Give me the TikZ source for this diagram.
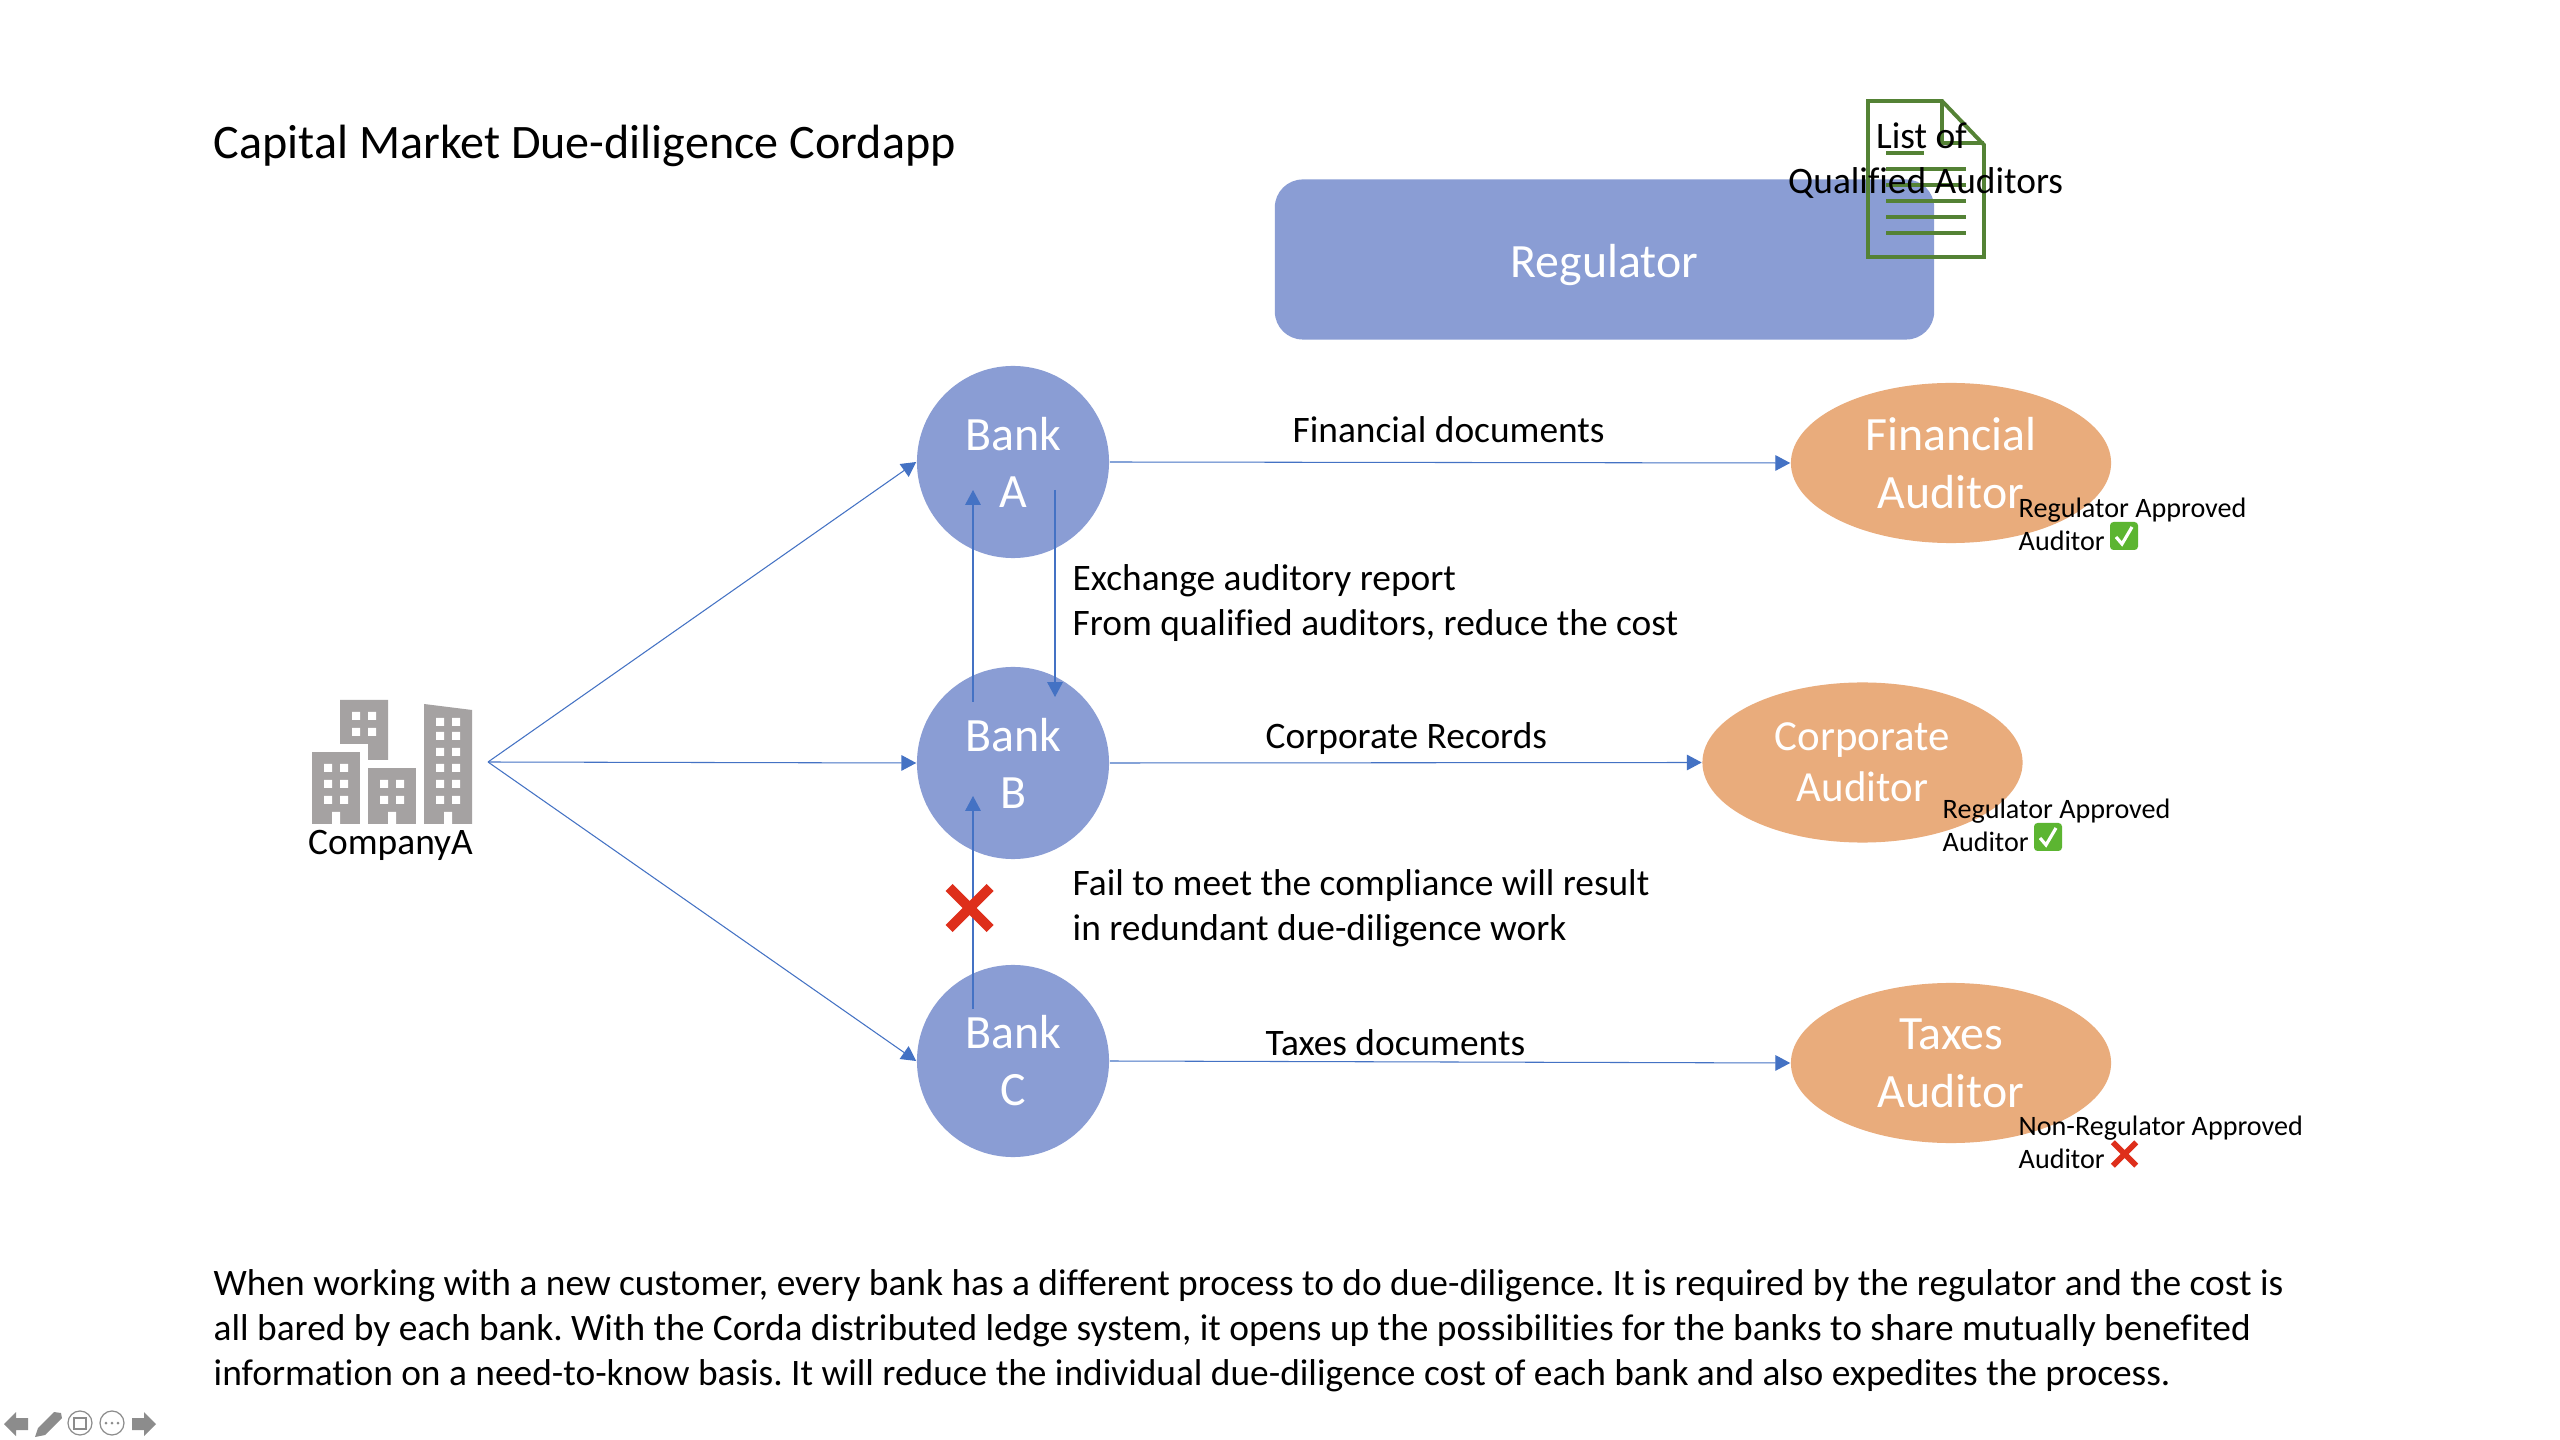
\documentclass[tikz,border=0pt]{standalone}
\usepackage{fontspec}
\setmainfont[Ligatures=NoCommon]{Carlito}
\usetikzlibrary{arrows.meta,shapes.geometric}
\definecolor{bankblue}{HTML}{8A9DD4}
\definecolor{linkblue}{HTML}{4472C4}
\definecolor{auditorange}{HTML}{E9AC7C}
\definecolor{docgreen}{HTML}{548235}
\definecolor{towergray}{HTML}{A5A2A2}
\definecolor{navgray}{HTML}{8C8C8C}
\definecolor{crossred}{HTML}{DE2F1B}
\definecolor{okgreen}{HTML}{5CB531}
\frenchspacing
\begin{document}
\begin{tikzpicture}[x=.01cm,y=-.01cm]
	\tikzset{bank/.style = {shape=circle,fill=bankblue,text=white,minimum size=1.92cm,inner sep=0pt,align=center,font=\fontsize{13.6}{16.2}\selectfont}}
	\tikzset{auditor/.style = {shape=ellipse,fill=auditorange,text=white,minimum width=3.2cm,minimum height=1.6cm,inner sep=0pt,align=center,font=\fontsize{13.6}{16.5}\selectfont}}
	\tikzset{link/.style = {-{Triangle[length=4.2pt,width=4.4pt]},draw=linkblue,line width=.3pt}}
	\tikzset{label/.style = {anchor=base west,inner sep=0pt,font=\fontsize{10.63}{12.8}\selectfont}}
	\tikzset{note/.style = {anchor=base west,inner sep=0pt,font=\fontsize{8}{9.5}\selectfont}}
	\tikzset{docline/.style = {draw=docgreen,line width=1.1pt}}
	\tikzset{crossmark/.pic = {\fill[crossred] (-24,-17) -- (-17,-24) -- (0,-7) -- (17,-24) -- (24,-17) -- (7,0) -- (24,17) -- (17,24) -- (0,7) -- (-17,24) -- (-24,17) -- (-7,0) -- cycle;}}
	\tikzset{okmark/.pic = {\fill[okgreen,rounded corners=1pt] (-14,-14) rectangle (14,14); \draw[white,line width=.9pt] (-8,1) -- (-2,8) -- (8,-9);}}
	\useasboundingbox (0,0) rectangle (2560,1440);
	\fill[white] (0,0) rectangle (2560,1440);
	% title
	\node[anchor=base west,inner sep=0pt,font=\fontsize{13.68}{16}\selectfont] (title) at (213,159) {Capital Market Due-diligence Cordapp};
	% regulator and its document
	\node[fill=bankblue,text=white,rounded corners=.28cm,minimum width=6.59cm,minimum height=1.6cm,inner sep=0pt,text height=10.2pt,text depth=0pt,font=\fontsize{13.6}{16}\selectfont] (regulator) at (1604.5,259.5) {Regulator};
	\draw[docline,line join=miter] (1868,101) -- (1942,101) -- (1984,145) -- (1984,257) -- (1868,257) -- cycle;
	\draw[docline] (1942,101) -- (1942,143) -- (1984,143);
	\draw[docline] (1886,153) -- (1924,153);
	\draw[docline] (1886,169) -- (1966,169);
	\draw[docline] (1886,185) -- (1966,185);
	\draw[docline] (1886,201) -- (1966,201);
	\draw[docline] (1886,217) -- (1966,217);
	\draw[docline] (1886,233) -- (1966,233);
	\node[label] (listof) at (1875.5,149) {List of};
	\node[label] (qualified) at (1787.5,194) {Qualified Auditors};
	% company buildings
	\fill[towergray] (340,700) -- (388,700) -- (388,760) -- (368,760) -- (368,744) -- (340,744) -- cycle;
	\fill[towergray] (312,752) rectangle (360,824);
	\fill[towergray] (368,768) rectangle (416,824);
	\fill[towergray] (424,704) -- (472,710) -- (472,824) -- (424,824) -- cycle;
	\fill[white] (352,712) rectangle +(8,8) (368,712) rectangle +(8,8) (352,728) rectangle +(8,8) (368,728) rectangle +(8,8);
	\fill[white] (324,764) rectangle +(8,8) (340,764) rectangle +(8,8) (324,780) rectangle +(8,8) (340,780) rectangle +(8,8) (324,796) rectangle +(8,8) (340,796) rectangle +(8,8) (332,812) rectangle +(8,12);
	\fill[white] (380,780) rectangle +(8,8) (396,780) rectangle +(8,8) (380,796) rectangle +(8,8) (396,796) rectangle +(8,8) (388,812) rectangle +(8,12);
	\fill[white] (436,718) rectangle +(8,8) (452,718) rectangle +(8,8) (436,732) rectangle +(8,8) (452,732) rectangle +(8,8) (436,748) rectangle +(8,8) (452,748) rectangle +(8,8);
	\fill[white] (436,764) rectangle +(8,8) (452,764) rectangle +(8,8) (436,780) rectangle +(8,8) (452,780) rectangle +(8,8) (436,796) rectangle +(8,8) (452,796) rectangle +(8,8) (444,812) rectangle +(8,12);
	\node[label,anchor=base] (company) at (390.5,855) {CompanyA};
	% banks and auditors
	\node[bank] (banka) at (1013,462) {Bank\\A};
	\node[bank] (bankb) at (1013,763) {Bank\\B};
	\node[bank] (bankc) at (1013,1061) {Bank\\C};
	\node[auditor] (finaud) at (1951,463) {Financial\\Auditor};
	\node[auditor,font=\fontsize{12.2}{14.5}\selectfont] (corpaud) at (1862.5,762.5) {Corporate\\Auditor};
	\node[auditor] (taxaud) at (1951,1063) {Taxes\\Auditor};
	\coordinate (hub) at (488,762);
	\coordinate (bstart) at (973,702);
	\coordinate (aend) at (973,490);
	\coordinate (astart) at (1055,490);
	\coordinate (bend) at (1055,697);
	\coordinate (cstart) at (973,1009);
	\coordinate (cend) at (973,796);
	\draw[link] (hub) -- (banka.west);
	\draw[link] (hub) -- (bankb.west);
	\draw[link] (hub) -- (bankc.west);
	\draw[link] (banka.east) -- (finaud.west);
	\draw[link] (bankb.east) -- (corpaud.west);
	\draw[link] (bankc.east) -- (taxaud.west);
	\draw[link] (bstart) -- (aend);
	\draw[link] (astart) -- (bend);
	\draw[link] (cstart) -- (cend);
	% labels on the links
	\node[label] (findocs) at (1292,443) {Financial documents};
	\node[label] (corprec) at (1265,749) {Corporate Records};
	\node[label] (taxdocs) at (1265,1055) {Taxes documents};
	\node[label] (exchange) at (1072,591) {Exchange auditory report};
	\node[label] (reduce) at (1072,636) {From qualified auditors, reduce the cost};
	\node[label] (fail) at (1072,896) {Fail to meet the compliance will result};
	\node[label] (redundant) at (1072,941) {in redundant due-diligence work};
	\pic at (969.5,908) {crossmark};
	% approval notes
	\node[note] (noteone) at (2018,518) {Regulator Approved};
	\node[note] (noteonb) at (2018,551) {Auditor};
	\pic at (2124,536) {okmark};
	\node[note] (notetwo) at (1942,819) {Regulator Approved};
	\node[note] (notetwb) at (1942,852) {Auditor};
	\pic at (2048,837) {okmark};
	\node[note] (notethree) at (2018,1135) {Non-Regulator Approved};
	\node[note] (notethb) at (2018,1168) {Auditor};
	\pic[scale=.57] at (2124.5,1154) {crossmark};
	% bottom text
	\node[label] (parone) at (213,1295) {When working with a new customer, every bank has a different process to do due-diligence. It is required by the regulator and the cost is};
	\node[label] (partwo) at (213,1340) {all bared by each bank. With the Corda distributed ledge system, it opens up the possibilities for the banks to share mutually benefited};
	\node[label] (parthree) at (213,1385) {information on a need-to-know basis. It will reduce the individual due-diligence cost of each bank and also expedites the process.};
	% slide controls
	\fill[navgray] (4,1424) -- (16,1412) -- (16,1418) -- (28,1418) -- (28,1430) -- (16,1430) -- (16,1436) -- cycle;
	\fill[navgray] (35,1437) -- (38,1428) -- (54,1412) -- (61,1413) -- (62,1418) -- (45,1435) -- cycle;
	\draw[navgray,line width=.35pt] (80,1423) circle (12);
	\draw[navgray,line width=.3pt] (74,1418) rectangle (86,1429);
	\draw[navgray,line width=.35pt] (112,1423) circle (12);
	\fill[navgray] (106,1423) circle (1.5) (112,1423) circle (1.5) (118,1423) circle (1.5);
	\fill[navgray] (156,1424) -- (144,1412) -- (144,1418) -- (132,1418) -- (132,1430) -- (144,1430) -- (144,1436) -- cycle;
\end{tikzpicture}
\end{document}
